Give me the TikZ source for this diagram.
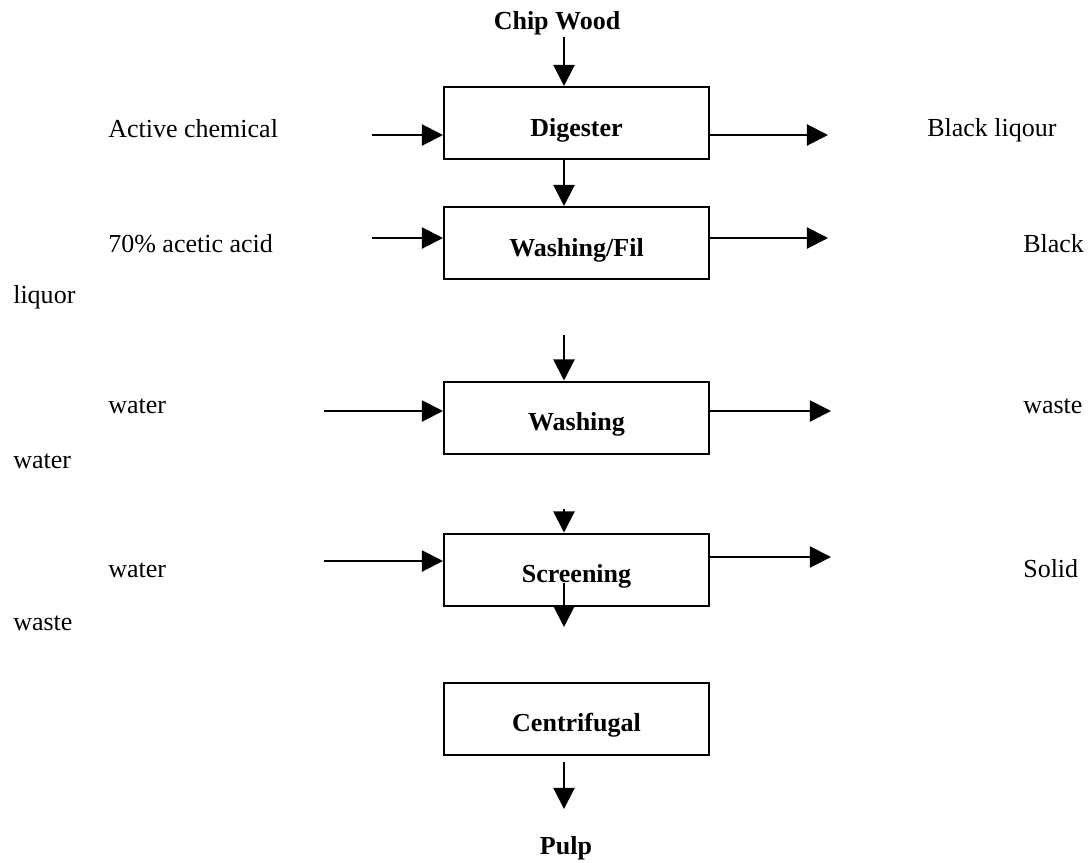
\documentclass[tikz,border=0pt]{standalone}
\usepackage{fontspec}
\setmainfont{Liberation Serif}[Scale=1.85]
\usetikzlibrary{arrows.meta}

\begin{document}
\begin{tikzpicture}[
        unit/.style={draw, line width=0.05cm, minimum width=6.625cm, minimum height=1.8cm,
            inner sep=2pt, text height=22.5pt, text depth=4pt, font=\bfseries},
        flow/.style={line width=0.05cm, -{Triangle[length=0.53cm,width=0.53cm]}},
        side/.style={anchor=base west, inner sep=0pt}]
        \useasboundingbox (0,0) rectangle (27.2,-21.55);
        \coordinate (col) at (14.1,0);

        \node[anchor=base, inner sep=1.5pt, font=\bfseries] (chip) at (13.925,-0.725) {Chip Wood};
        \node[unit] (dig) at (14.4125,-3.075) {Digester};
        \node[unit] (wfil) at (14.4125,-6.075) {Washing/Fil};
        \node[unit] (wash) at (14.4125,-10.4375) {Washing};
        \node[unit] (scr) at (14.4125,-14.2375) {Screening};
        \node[unit] (cen) at (14.4125,-17.9625) {Centrifugal};
        \node[anchor=base, inner sep=1.5pt, font=\bfseries] (pulp) at (14.15,-21.35) {Pulp};

        \node[side] (act) at (2.7,-3.425) {Active chemical};
        \node[side] (acid) at (2.7,-6.3) {70\% acetic acid};
        \node[side] (liq) at (0.325,-7.575) {liquor};
        \node[side] (wat1) at (2.7,-10.325) {water};
        \node[side] (wat2) at (0.325,-11.7) {water};
        \node[side] (wat3) at (2.7,-14.425) {water};
        \node[side] (wst1) at (0.325,-15.75) {waste};
        \node[side] (blq) at (23.175,-3.4) {Black liqour};
        \node[side] (blk) at (25.575,-6.3) {Black};
        \node[side] (wst2) at (25.575,-10.325) {waste};
        \node[side] (sol) at (25.575,-14.425) {Solid};

        % free ends
        \coordinate (aL1) at (9.3,-3.375);
        \coordinate (aR1) at (20.7,-3.375);
        \coordinate (aL2) at (9.3,-5.95);
        \coordinate (aR2) at (20.7,-5.95);
        \coordinate (aL3) at (8.1,-10.275);
        \coordinate (aR3) at (20.775,-10.275);
        \coordinate (aL4) at (8.1,-14.025);
        \coordinate (aR4) at (20.775,-13.925);
        \coordinate (wIn) at (14.1,-8.375);
        \coordinate (sIn) at (14.1,-12.725);
        \coordinate (sOut) at (14.1,-15.675);
        \coordinate (cOut) at (14.1,-19.05);
        \coordinate (cEnd) at (14.1,-20.225);

        \draw[flow] (chip.south -| col) -- (dig.north -| col);
        \draw[flow] (dig.south -| col) -- (wfil.north -| col);
        \draw[flow] (wIn) -- (wash.north -| col);
        \draw[flow] (sIn) -- (scr.north -| col);
        \draw[flow] (scr.base -| col) -- (sOut);
        \draw[flow] (cOut) -- (cEnd);

        \draw[flow] (aL1) -- (aL1 -| dig.west);
        \draw[flow] (aR1 -| dig.east) -- (aR1);
        \draw[flow] (aL2) -- (aL2 -| wfil.west);
        \draw[flow] (aR2 -| wfil.east) -- (aR2);
        \draw[flow] (aL3) -- (aL3 -| wash.west);
        \draw[flow] (aR3 -| wash.east) -- (aR3);
        \draw[flow] (aL4) -- (aL4 -| scr.west);
        \draw[flow] (aR4 -| scr.east) -- (aR4);
    \end{tikzpicture}
\end{document}
